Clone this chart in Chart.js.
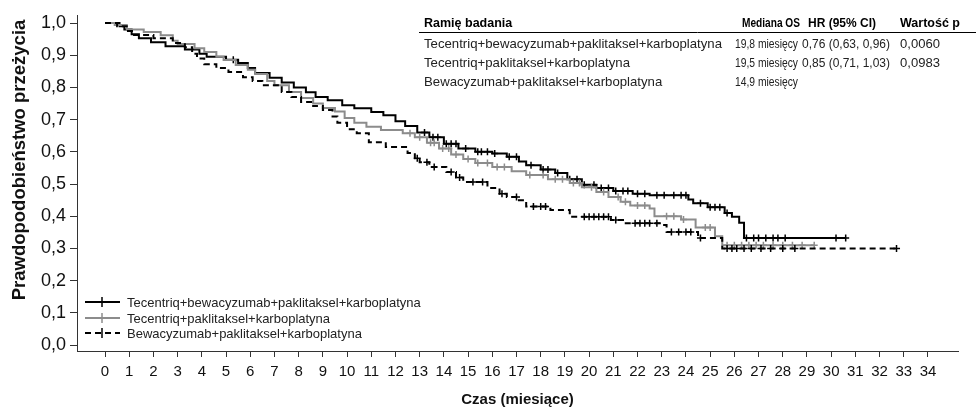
<!DOCTYPE html>
<html lang="pl">
<head>
<meta charset="utf-8">
<title>Przeżycie całkowite</title>
<script src="https://cdn.jsdelivr.net/npm/chart.js@4.4.1/dist/chart.umd.min.js"></script>
<style>
  html, body { margin: 0; padding: 0; background: #fff; }
  #wrap { width: 976px; height: 412px; }
</style>
</head>
<body>
<div id="wrap"><canvas id="kmChart" width="976" height="412"></canvas></div>
<script>
// Study arms
var armNames = [
  "Tecentriq+bewacyzumab+paklitaksel+karboplatyna",
  "Tecentriq+paklitaksel+karboplatyna",
  "Bewacyzumab+paklitaksel+karboplatyna"
];

// Kaplan-Meier steps (month of drop, survival after drop)
var armATimes = [0, 0.6, 0.8, 1.1, 1.4, 1.9, 2.5, 3.3, 3.9, 4.2, 5.0, 5.5, 5.9, 6.2, 6.8, 7.3, 7.8, 8.3, 8.7, 9.2, 9.8,
  10.3, 11.0, 11.5, 12.0, 12.4, 12.9, 13.4, 14.0, 14.6, 15.3, 16.0, 16.6, 17.1, 17.4, 18.0, 18.6, 19.1, 19.7,
  20.3, 21.0, 21.8, 22.5, 24.1, 24.3, 24.9, 25.6, 25.9, 26.2, 26.4];
var armASurv = [1.0, 0.99, 0.98, 0.965, 0.953, 0.94, 0.928, 0.918, 0.905, 0.895, 0.886, 0.876, 0.86, 0.845, 0.83, 0.815, 0.8, 0.785, 0.77, 0.76, 0.745,
  0.735, 0.724, 0.714, 0.695, 0.68, 0.66, 0.645, 0.625, 0.61, 0.6, 0.595, 0.585, 0.57, 0.558, 0.545, 0.534, 0.515, 0.498,
  0.488, 0.478, 0.47, 0.465, 0.452, 0.44, 0.428, 0.41, 0.398, 0.38, 0.332];
var armACensor = [5.3, 13.2, 13.55, 13.75, 14.1, 14.3, 14.5, 14.9, 15.4, 15.55, 15.8, 16.1, 16.7, 17.0, 17.6, 18.1, 18.3, 18.7,
  19.2, 19.5, 19.8, 20.2, 20.5, 20.8, 21.1, 21.4, 21.6, 22.0, 22.3, 22.8, 23.1, 23.5, 23.8, 24.0, 24.6, 25.0, 25.2, 25.4,
  25.7, 26.5, 26.8, 27.0, 27.3, 27.6, 27.8, 28.1, 30.2, 30.6];

var armBTimes = [0, 0.4, 0.9, 1.6, 2.3, 2.8, 3.0, 3.7, 4.1, 4.6, 4.9, 5.4, 5.9, 6.2, 6.7, 7.0, 7.6, 8.1, 8.6, 9.0, 9.5, 9.9,
  10.3, 10.8, 11.4, 12.3, 12.8, 13.3, 13.8, 14.3, 14.8, 15.3, 16.0, 16.8, 17.4, 18.3, 19.2, 19.7, 20.3, 20.8, 21.3,
  21.7, 22.5, 22.7, 23.8, 24.4, 25.2, 25.5];
var armBSurv = [1.0, 0.994, 0.98, 0.972, 0.962, 0.945, 0.935, 0.922, 0.91, 0.895, 0.885, 0.87, 0.855, 0.842, 0.82, 0.807, 0.786, 0.767, 0.75, 0.736, 0.725, 0.705,
  0.69, 0.678, 0.668, 0.658, 0.645, 0.628, 0.61, 0.592, 0.578, 0.565, 0.553, 0.54, 0.528, 0.515, 0.503, 0.49, 0.475, 0.46, 0.445,
  0.433, 0.424, 0.4, 0.39, 0.365, 0.338, 0.31];
var armBCensor = [12.6, 13.0, 13.45, 13.6, 13.95, 14.2, 14.5, 15.0, 15.4, 15.8, 16.2, 16.5, 17.55, 18.1, 18.6, 18.9, 19.35,
  19.6, 20.1, 20.6, 21.2, 21.5, 22.0, 22.3, 23.2, 23.5, 23.9, 24.8, 25.0, 25.7, 26.0, 26.3, 26.6, 26.9, 27.2, 27.6,
  28.0, 28.4, 28.8, 29.3];

var armCTimes = [0, 0.5, 0.9, 1.2, 2.0, 2.8, 3.3, 3.6, 3.8, 4.1, 4.6, 5.1, 5.7, 6.1, 6.5, 7.3, 7.7, 8.1, 8.6, 9.0, 9.4, 9.6,
  10.0, 10.4, 10.9, 11.6, 12.5, 12.8, 13.0, 13.4, 14.1, 14.5, 14.8, 15.8, 16.3, 16.6, 17.1, 17.4, 18.4, 19.2, 20.9,
  21.4, 23.0, 23.2, 24.5, 25.5];
var armCSurv = [1.0, 0.99, 0.975, 0.963, 0.953, 0.938, 0.925, 0.905, 0.89, 0.872, 0.86, 0.848, 0.832, 0.82, 0.807, 0.786, 0.77, 0.755, 0.742, 0.73, 0.71, 0.69,
  0.67, 0.658, 0.63, 0.615, 0.596, 0.58, 0.568, 0.553, 0.537, 0.52, 0.506, 0.488, 0.47, 0.46, 0.45, 0.43, 0.419, 0.398, 0.388,
  0.378, 0.373, 0.351, 0.332, 0.3];
var armCCensor = [12.9, 13.3, 13.6, 14.3, 14.65, 15.2, 15.6, 16.4, 17.0, 17.7, 18.0, 18.2, 19.8, 20.0, 20.2, 20.4, 20.6, 20.8,
  21.1, 21.9, 22.1, 22.3, 22.5, 22.8, 23.4, 23.7, 24.0, 24.2, 24.6, 25.7, 25.9, 26.1, 26.4, 26.7, 27.1, 27.5, 28.0,
  28.5, 32.7];

// Axis ticks
var xTicks = [0, 1, 2, 3, 4, 5, 6, 7, 8, 9, 10, 11, 12, 13, 14, 15, 16, 17, 18, 19, 20, 21, 22, 23, 24, 25, 26, 27, 28, 29, 30, 31, 32, 33, 34];
var yTicks = [0, 0.1, 0.2, 0.3, 0.4, 0.5, 0.6, 0.7, 0.8, 0.9, 1.0];

// Summary table
var tableHeader = ["Ramię badania", "Mediana OS", "HR (95% CI)", "Wartość p"];
var medianOS = ["19,8 miesięcy", "19,5 miesięcy", "14,9 miesięcy"];
var hazardRatio = ["0,76 (0,63, 0,96)", "0,85 (0,71, 1,03)", ""];
var pValue = ["0,0060", "0,0983", ""];

var armColors = ["#000000", "#8c8c8c", "#000000"];
var armDash = [[], [], [6, 4]];

// merge drops and censor marks into one step series
function buildSteps(times, surv, censor) {
  var pts = [];
  times.forEach(function (t, i) { pts.push({ x: t, y: surv[i], censored: false }); });
  censor.forEach(function (t) {
    var level = 1;
    for (var i = 0; i < times.length; i++) { if (times[i] <= t) level = surv[i]; }
    pts.push({ x: t, y: level, censored: true });
  });
  pts.sort(function (a, b) { return a.x - b.x; });
  return pts;
}

var series = [
  buildSteps(armATimes, armASurv, armACensor),
  buildSteps(armBTimes, armBSurv, armBCensor),
  buildSteps(armCTimes, armCSurv, armCCensor)
];

var baseFont = "'Liberation Sans', Arial, sans-serif";

var datasets = series.map(function (pts, i) {
  return {
    label: armNames[i],
    data: pts,
    stepped: true,
    borderColor: armColors[i],
    borderWidth: 2,
    borderDash: armDash[i],
    fill: false,
    pointStyle: "cross",
    pointRadius: function (ctx) { return ctx.raw && ctx.raw.censored ? 3.5 : 0; },
    pointHoverRadius: 0,
    pointBorderColor: armColors[i],
    pointBorderWidth: 1.5,
    order: 2 - i
  };
});

// y title, legend in the lower-left corner and the table in the upper-right
var overlayPlugin = {
  id: "overlay",
  afterDraw: function (chart) {
    var ctx = chart.ctx;
    ctx.save();

    ctx.save();
    ctx.translate(20, 160);
    ctx.rotate(-Math.PI / 2);
    ctx.font = "bold 18.5px " + baseFont;
    ctx.fillStyle = "#111";
    ctx.textAlign = "center";
    ctx.textBaseline = "middle";
    ctx.fillText("Prawdopodobieństwo przeżycia", 0, 0);
    ctx.restore();

    // legend
    var legendY = [302, 318, 333];
    ctx.font = "13px " + baseFont;
    ctx.textBaseline = "middle";
    ctx.textAlign = "left";
    armNames.forEach(function (name, i) {
      var y = legendY[i];
      ctx.strokeStyle = armColors[i];
      ctx.lineWidth = 2;
      ctx.setLineDash(armDash[i]);
      ctx.beginPath();
      ctx.moveTo(85, y);
      ctx.lineTo(120, y);
      ctx.stroke();
      ctx.setLineDash([]);
      ctx.lineWidth = 1.5;
      ctx.beginPath();
      ctx.moveTo(102, y - 5);
      ctx.lineTo(102, y + 5);
      ctx.stroke();
      ctx.fillStyle = "#222";
      ctx.fillText(name, 127, y + 1);
    });

    // table
    var headX = [424, 742, 808, 900];
    var headW = [92, 58, 68, 72];
    var valX = [424, 735, 802, 900];
    var valW = [310, 63, 88, 40];
    ctx.fillStyle = "#000";
    ctx.font = "bold 12.5px " + baseFont;
    tableHeader.forEach(function (h, i) { ctx.fillText(h, headX[i], 24, headW[i]); });
    ctx.strokeStyle = "#000";
    ctx.lineWidth = 1;
    ctx.beginPath();
    ctx.moveTo(419, 32.5);
    ctx.lineTo(976, 32.5);
    ctx.stroke();
    ctx.font = "13.2px " + baseFont;
    ctx.fillStyle = "#222";
    var rowY = [44, 63, 82];
    armNames.forEach(function (name, i) {
      ctx.fillText(name, valX[0], rowY[i], valW[0]);
      ctx.fillText(medianOS[i], valX[1], rowY[i], valW[1]);
      ctx.fillText(hazardRatio[i], valX[2], rowY[i], valW[2]);
      ctx.fillText(pValue[i], valX[3], rowY[i], valW[3]);
    });
    ctx.restore();
  }
};

var ctx = document.getElementById("kmChart").getContext("2d");
var myChart = new Chart(ctx, {
  type: "line",
  data: { datasets: datasets },
  options: {
    responsive: false,
    animation: false,
    devicePixelRatio: 1,
    layout: { padding: { top: 15, right: 18, left: 0, bottom: 0 } },
    plugins: { legend: { display: false }, tooltip: { enabled: false } },
    scales: {
      x: {
        type: "linear",
        min: -1.157,
        max: 35.24,
        afterBuildTicks: function (axis) { axis.ticks = xTicks.map(function (v) { return { value: v }; }); },
        afterFit: function (axis) { axis.height = 61; },
        ticks: {
          autoSkip: false,
          maxRotation: 0,
          padding: 6,
          color: "#111",
          font: { family: baseFont, size: 15 },
          callback: function (v) { return String(v); }
        },
        grid: { drawOnChartArea: false, drawTicks: true, tickLength: 6, tickColor: "#333" },
        border: { display: true, color: "#333", width: 1 },
        title: {
          display: true,
          text: "Czas (miesiące)",
          color: "#111",
          font: { family: baseFont, size: 15, weight: "bold" },
          padding: { top: 0, bottom: 3 }
        }
      },
      y: {
        type: "linear",
        min: -0.0186,
        max: 1.025,
        afterBuildTicks: function (axis) { axis.ticks = yTicks.map(function (v) { return { value: v }; }); },
        afterFit: function (axis) { axis.width = 77; },
        ticks: {
          padding: 4,
          color: "#111",
          font: { family: baseFont, size: 18 },
          callback: function (v) { return v.toFixed(1).replace(".", ","); }
        },
        grid: { drawOnChartArea: false, drawTicks: true, tickLength: 7, tickColor: "#333" },
        border: { display: true, color: "#333", width: 1 },
        title: { display: false }
      }
    }
  },
  plugins: [overlayPlugin]
});
</script>
</body>
</html>
